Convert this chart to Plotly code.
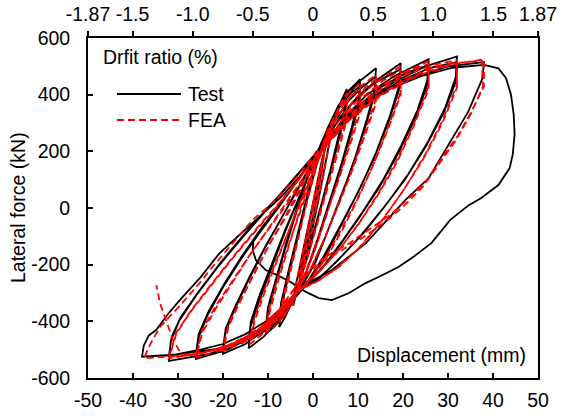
import plotly.graph_objects as go

# ---- Test: cyclic lateral load history, (displacement mm, lateral force kN) ----
test_initial = [(0, 0), (0.8, 60), (1.6, 130), (2.4, 190), (2.1, 150), (1.0, 50), (-0.4, -60), (-1.4, -140),
                (-2.4, -210), (-3.0, -250), (-2.6, -200), (-1.4, -100), (0.0, 20), (1.2, 110), (2.4, 190),
                (3.4, 255), (4.2, 300), (3.8, 245), (2.6, 140), (1.0, 10), (-0.8, -120), (-2.4, -220),
                (-3.6, -300), (-4.4, -345), (-3.9, -280), (-2.6, -180), (-1.0, -60), (0.6, 70), (2.0, 170),
                (3.5, 260), (5.5, 350), (7.5, 420)]
test_amp_7 = [(7.2, 360), (5.6, 250), (3.8, 130), (1.8, 10), (-0.4, -120), (-2.6, -240), (-4.6, -330),
              (-6.2, -385), (-7.5, -420),
              (-7.1, -355), (-5.6, -250), (-3.8, -130), (-1.8, 0), (0.4, 130), (2.4, 240), (4.4, 320),
              (6.2, 370), (7.5, 395),
              (7.1, 330), (5.4, 220), (3.4, 95), (1.2, -30), (-1.0, -160), (-3.2, -275), (-5.4, -350),
              (-7.5, -400),
              (-7.1, -335), (-5.4, -220), (-3.4, -90), (-1.2, 50), (1.0, 180), (3.2, 280), (5.6, 360),
              (8.0, 415), (10.5, 455)]
test_amp_10 = [(10.2, 385), (8.6, 285), (6.4, 160), (3.8, 30), (1.0, -110), (-1.6, -230), (-3.8, -310),
               (-6.2, -375), (-8.4, -415), (-10.5, -445),
               (-10.1, -375), (-8.5, -275), (-6.3, -150), (-3.8, -20), (-1.4, 100), (0.9, 195), (3.5, 290),
               (6.0, 360), (8.4, 405), (10.5, 430),
               (10.1, 360), (8.3, 255), (5.9, 125), (3.2, -10), (0.4, -145), (-2.2, -255), (-4.6, -330),
               (-7.2, -385), (-10.5, -425),
               (-10.0, -350), (-8.2, -245), (-5.8, -115), (-3.2, 20), (-0.8, 135), (1.4, 210), (4.0, 305),
               (7.0, 385), (10.2, 445), (14.0, 493)]
test_amp_14 = [(13.7, 415), (12.0, 315), (9.4, 180), (6.6, 55), (3.6, -70), (0.6, -190), (-2.4, -275),
               (-5.0, -345), (-8.0, -405), (-11.0, -455), (-14.3, -495),
               (-13.9, -420), (-12.0, -330), (-9.4, -220), (-6.6, -100), (-3.8, 10), (-1.0, 120), (1.6, 210),
               (4.6, 300), (8.0, 380), (11.2, 430), (14.0, 465),
               (13.6, 395), (11.6, 285), (8.8, 150), (5.8, 25), (2.8, -100), (-0.2, -210), (-3.0, -285),
               (-6.0, -360), (-9.4, -420), (-14.3, -470),
               (-13.8, -400), (-11.8, -305), (-9.0, -190), (-6.0, -70), (-3.0, 40), (0.0, 150), (2.4, 225),
               (6.0, 320), (10.0, 395), (14.5, 455), (19.5, 511)]
test_amp_20 = [(19.2, 435), (17.2, 330), (14.0, 195), (10.6, 75), (7.0, -40), (3.4, -150), (0.0, -240),
               (-3.0, -290), (-6.5, -365), (-10.5, -425), (-15.0, -480), (-20.0, -515),
               (-19.5, -440), (-17.5, -360), (-14.5, -260), (-11.0, -150), (-7.5, -50), (-4.0, 50),
               (-1.0, 140), (1.5, 210), (5.0, 295), (9.0, 375), (13.5, 440), (19.5, 490),
               (19.1, 415), (16.8, 305), (13.4, 170), (9.8, 50), (6.0, -65), (2.4, -170), (-1.0, -255),
               (-4.0, -305), (-8.0, -385), (-13.0, -450), (-20.0, -495),
               (-19.4, -425), (-17.2, -345), (-14.0, -240), (-10.4, -130), (-6.8, -30), (-3.2, 70),
               (0.0, 160), (2.4, 220), (7.0, 320), (12.0, 400), (18.0, 465), (25.7, 525)]
test_amp_26 = [(25.4, 450), (23.2, 345), (19.6, 220), (15.6, 100), (11.2, -10), (6.8, -110), (2.6, -200),
               (-1.0, -265), (-4.0, -305), (-8.0, -385), (-13.0, -450), (-19.0, -500), (-26.0, -533),
               (-25.5, -460), (-23.5, -380), (-20.0, -280), (-16.0, -180), (-12.0, -90), (-7.5, 5),
               (-3.5, 95), (0.5, 190), (4.0, 260), (9.0, 345), (15.0, 425), (20.5, 475), (25.7, 505),
               (25.3, 430), (22.8, 320), (19.0, 195), (14.8, 75), (10.2, -35), (5.8, -135), (1.6, -220),
               (-2.0, -275), (-5.0, -330), (-10.0, -415), (-17.0, -480), (-26.0, -515),
               (-25.4, -445), (-23.2, -365), (-19.6, -265), (-15.6, -165), (-11.4, -70), (-7.0, 20),
               (-3.0, 105), (0.6, 195), (5.0, 275), (11.0, 370), (18.0, 445), (25.0, 500), (32.0, 535)]
test_amp_32 = [(31.7, 460), (29.4, 355), (25.6, 235), (21.2, 120), (16.4, 15), (11.4, -85), (6.4, -170),
               (1.6, -245), (-2.0, -280), (-5.0, -335), (-10.0, -420), (-16.0, -475), (-23.0, -515),
               (-32.0, -540),
               (-31.6, -470), (-29.8, -400), (-26.0, -310), (-21.0, -205), (-16.0, -110), (-11.0, -20),
               (-6.0, 70), (-2.0, 145), (1.0, 200), (6.0, 290), (12.0, 375), (19.0, 445), (26.0, 495),
               (32.0, 515),
               (31.6, 440), (29.0, 335), (25.0, 215), (20.4, 100), (15.4, -5), (10.2, -105), (5.2, -190),
               (0.8, -255), (-3.0, -285), (-6.0, -345), (-12.0, -435), (-20.0, -495), (-32.0, -520),
               (-31.4, -455), (-29.4, -385), (-25.4, -295), (-20.4, -190), (-15.4, -95), (-10.4, -5),
               (-5.4, 80), (-1.4, 155), (1.5, 210), (7.0, 300), (14.0, 395), (22.0, 460), (30.0, 500),
               (38.0, 515)]
test_amp_38 = [(37.6, 455), (34.5, 340), (30.1, 222), (25.7, 105), (20.5, 28), (16.0, -50), (11.7, -125),
               (4.2, -219), (-3.1, -282), (-6.0, -340), (-10.0, -395), (-15.0, -445), (-20.0, -480),
               (-25.0, -500), (-31.0, -518), (-38.0, -525),
               (-37.6, -485), (-36.5, -450), (-34.8, -430), (-32.0, -370), (-29.6, -325), (-25.0, -245),
               (-20.8, -160), (-16.0, -90), (-11.9, -31), (-7.0, 40), (-3.0, 110), (0.0, 170), (2.0, 210),
               (6.0, 285), (11.0, 360), (17.0, 420), (24.0, 465), (31.0, 495), (38.0, 505)]
test_failure = [(41.2, 493), (42.9, 458), (44.0, 400), (44.6, 330), (44.8, 260), (44.4, 190), (43.7, 141),
                (41.2, 81), (37.4, 35), (34.7, 11), (30.5, -42), (26.3, -124), (22.5, -170), (19.0, -208),
                (15.0, -240), (11.7, -265), (8.0, -300), (4.2, -325), (1.3, -318), (-1.5, -297),
                (-3.1, -282), (-4.6, -265), (-7.5, -240), (-10.5, -219), (-12.7, -184), (-13.4, -148),
                (-13.2, -110)]

# ---- FEA: simulated response under the same loading protocol ----
fea_initial = [(0, 0), (1.0, 80), (2.0, 160), (2.6, 205), (2.2, 150), (0.8, 30), (-0.8, -90), (-2.0, -180),
               (-3.0, -255), (-2.5, -190), (-1.2, -80), (0.4, 50), (1.8, 150), (3.0, 235), (4.2, 305),
               (3.8, 240), (2.4, 120), (0.6, -20), (-1.2, -150), (-2.8, -250), (-4.0, -320), (-4.5, -345),
               (-3.8, -270), (-2.2, -150), (-0.4, -20), (1.2, 110), (2.8, 220), (4.6, 310), (6.0, 365),
               (7.5, 405)]
fea_amp_7 = [(7.5, 330), (5.6, 215), (3.6, 100), (1.6, -15), (-0.6, -140), (-2.8, -255), (-4.8, -335),
             (-6.4, -380), (-7.5, -405),
             (-6.6, -330), (-5.0, -220), (-3.2, -100), (-1.2, 30), (0.8, 150), (2.8, 250), (4.8, 325),
             (6.4, 365), (7.5, 385),
             (7.5, 310), (5.4, 190), (3.2, 70), (1.0, -50), (-1.2, -175), (-3.4, -280), (-5.6, -350),
             (-7.5, -390),
             (-6.6, -315), (-4.8, -195), (-2.8, -70), (-0.8, 60), (1.2, 180), (3.4, 280), (5.8, 355),
             (8.2, 410), (10.5, 440)]
fea_amp_10 = [(10.5, 355), (8.4, 245), (6.0, 120), (3.4, -5), (0.8, -130), (-1.8, -240), (-4.0, -315),
              (-6.4, -380), (-8.6, -420), (-10.5, -440),
              (-9.5, -360), (-7.6, -250), (-5.2, -125), (-2.8, 0), (-0.4, 110), (1.6, 200), (4.2, 295),
              (6.8, 365), (9.0, 405), (10.5, 420),
              (10.5, 335), (8.2, 220), (5.6, 95), (2.8, -30), (0.2, -150), (-2.4, -255), (-4.8, -330),
              (-7.6, -390), (-10.5, -425),
              (-9.6, -345), (-7.6, -235), (-5.0, -110), (-2.4, 10), (0.0, 120), (2.0, 205), (4.8, 305),
              (8.0, 385), (11.0, 435), (14.0, 470)]
fea_amp_14 = [(14.0, 385), (11.6, 270), (8.8, 140), (5.8, 20), (2.8, -100), (-0.4, -210), (-3.2, -280),
              (-6.0, -350), (-9.0, -410), (-11.6, -450), (-14.0, -480),
              (-13.0, -400), (-10.8, -300), (-8.0, -185), (-5.2, -70), (-2.4, 40), (0.4, 150), (2.6, 220),
              (5.6, 305), (8.8, 375), (11.6, 425), (14.0, 455),
              (14.0, 370), (11.4, 250), (8.4, 120), (5.4, 0), (2.2, -120), (-0.8, -225), (-3.6, -290),
              (-6.8, -365), (-10.0, -420), (-14.0, -465),
              (-13.0, -385), (-10.6, -280), (-7.6, -165), (-4.6, -50), (-1.6, 60), (1.0, 165), (3.8, 245),
              (7.4, 335), (11.4, 410), (15.4, 460), (19.5, 500)]
fea_amp_20 = [(19.5, 410), (16.8, 290), (13.6, 160), (10.2, 40), (6.6, -75), (3.0, -175), (-0.4, -250),
              (-3.6, -295), (-7.0, -370), (-11.0, -430), (-15.5, -475), (-20.0, -505),
              (-18.8, -420), (-16.2, -330), (-13.0, -230), (-9.6, -125), (-6.0, -25), (-2.6, 80), (0.4, 170),
              (2.4, 215), (6.4, 305), (11.0, 390), (15.6, 450), (19.5, 488),
              (19.5, 400), (16.6, 275), (13.2, 145), (9.6, 25), (5.8, -90), (2.2, -190), (-1.2, -260),
              (-4.4, -310), (-8.4, -390), (-13.4, -455), (-20.0, -495),
              (-18.8, -410), (-16.0, -320), (-12.6, -215), (-9.0, -110), (-5.2, -10), (-1.8, 95), (1.4, 185),
              (3.4, 230), (8.4, 330), (14.4, 425), (20.4, 480), (25.7, 518)]
fea_amp_26 = [(25.7, 430), (22.6, 305), (19.0, 180), (15.0, 65), (10.8, -40), (6.4, -135), (2.0, -215),
              (-1.6, -270), (-5.0, -320), (-9.6, -400), (-14.6, -460), (-20.0, -500), (-26.0, -528),
              (-24.6, -440), (-21.8, -360), (-18.2, -270), (-14.2, -170), (-10.0, -75), (-5.8, 20),
              (-2.0, 110), (1.4, 195), (5.6, 280), (11.4, 375), (17.0, 445), (21.6, 485), (25.7, 508),
              (25.7, 420), (22.4, 290), (18.6, 160), (14.4, 45), (10.0, -60), (5.4, -155), (1.0, -230),
              (-2.6, -280), (-6.0, -335), (-11.0, -415), (-18.0, -485), (-26.0, -518),
              (-24.6, -430), (-21.6, -345), (-17.8, -255), (-13.6, -155), (-9.2, -60), (-4.8, 35),
              (-1.0, 125), (2.0, 205), (7.4, 310), (14.0, 405), (20.6, 470), (26.6, 505), (32.0, 522)]
fea_amp_32 = [(32.0, 435), (28.8, 310), (24.8, 185), (20.4, 70), (15.8, -35), (11.0, -130), (6.0, -205),
              (1.4, -255), (-2.6, -285), (-6.0, -345), (-11.0, -420), (-17.0, -475), (-24.0, -510),
              (-32.0, -530),
              (-30.4, -445), (-27.4, -370), (-23.0, -280), (-18.0, -180), (-13.0, -85), (-8.0, 5),
              (-3.5, 95), (1.0, 190), (7.0, 295), (13.4, 385), (20.0, 450), (26.4, 495), (32.0, 515),
              (32.0, 425), (28.6, 295), (24.4, 170), (19.8, 55), (15.0, -50), (10.0, -145), (5.0, -215),
              (0.6, -262), (-3.4, -292), (-7.0, -360), (-13.0, -440), (-21.0, -500), (-32.0, -525),
              (-30.4, -440), (-27.0, -360), (-22.4, -265), (-17.4, -165), (-12.4, -70), (-7.4, 20),
              (-3.0, 105), (1.4, 195), (8.4, 315), (15.4, 400), (23.0, 465), (30.6, 505), (38.0, 525)]
fea_amp_38 = [(38.0, 430), (35.2, 340), (32.3, 258), (28.6, 176), (25.0, 92), (21.0, 30), (17.5, -20),
              (13.0, -70), (8.0, -125), (2.8, -172), (-0.9, -219), (-3.8, -280), (-7.5, -360),
              (-12.5, -435), (-19.0, -490), (-27.0, -520), (-37.5, -530),
              (-36.5, -490), (-34.0, -420), (-29.6, -345), (-25.2, -265), (-22.3, -207), (-17.8, -125),
              (-13.4, -42), (-8.3, 28), (-3.6, 110), (0.8, 195), (4.0, 255), (10.0, 345), (17.0, 420),
              (24.0, 475), (31.0, 510), (37.5, 520),
              (37.8, 430), (35.0, 330), (31.8, 240), (28.0, 155), (24.4, 75), (20.4, 10), (16.4, -45),
              (12.0, -95), (7.2, -140), (2.6, -185), (-1.4, -235), (-4.2, -285), (-8.0, -370),
              (-13.0, -440), (-19.0, -490), (-25.0, -512), (-29.0, -522), (-31.1, -466), (-32.7, -395),
              (-34.0, -336), (-34.8, -272)]

# Axis ticks
disp_ticks = [-50, -40, -30, -20, -10, 0, 10, 20, 30, 40, 50]
force_ticks = [-600, -400, -200, 0, 200, 400, 600]
drift_ticks = [-1.87, -1.5, -1.0, -0.5, 0, 0.5, 1.0, 1.5, 1.87]
drift_labels = ["-1.87", "-1.5", "-1.0", "-0.5", "0", "0.5", "1.0", "1.5", "1.87"]


def unzip(*stages):
    xs, ys = [], []
    for stage in stages:
        for x, y in stage:
            xs.append(x)
            ys.append(y)
    return xs, ys


test_d, test_f = unzip(test_initial, test_amp_7, test_amp_10, test_amp_14, test_amp_20,
                       test_amp_26, test_amp_32, test_amp_38, test_failure)
fea_d, fea_f = unzip(fea_initial, fea_amp_7, fea_amp_10, fea_amp_14, fea_amp_20,
                     fea_amp_26, fea_amp_32, fea_amp_38)

FONT = "Liberation Sans, Arial, sans-serif"
FS = 19.5
L, R, T, B = 88, 24, 38, 38
W, H = 562, 416
PW, PH = W - L - R, H - T - B


def px(x):
    return (x - L) / PW


def py(y):
    return (H - B - y) / PH


TEST_LINE = dict(color="black", width=1.8)
FEA_LINE = dict(color="#ff0000", width=1.8, dash="7px,4px")

fig = go.Figure()
fig.add_trace(go.Scatter(x=test_d, y=test_f, mode="lines", name="Test", line=TEST_LINE))
fig.add_trace(go.Scatter(x=fea_d, y=fea_f, mode="lines", name="FEA", line=FEA_LINE))
# empty carrier so the drift-ratio axis on top is drawn
fig.add_trace(go.Scatter(x=[drift_ticks[0], drift_ticks[-1]], y=[0, 0], xaxis="x2", mode="none",
                         hoverinfo="skip"))

axis_common = dict(showgrid=False, zeroline=False, showline=True, linecolor="black", linewidth=1.8,
                   tickcolor="black", ticklen=5, tickwidth=1.5, automargin=False,
                   tickfont=dict(family=FONT, size=FS, color="black"))

fig.update_layout(
    width=W, height=H, margin=dict(l=L, r=R, t=T, b=B, autoexpand=False),
    paper_bgcolor="white", plot_bgcolor="white",
    xaxis=dict(range=[-50, 50], tickvals=disp_ticks, ticktext=[str(v) for v in disp_ticks],
               ticks="inside", mirror=True, ticklabelstandoff=4, **axis_common),
    xaxis2=dict(range=[drift_ticks[0], drift_ticks[-1]], overlaying="x", side="top", anchor="y",
                tickvals=drift_ticks, ticktext=drift_labels, ticks="outside", ticklabelstandoff=2,
                **axis_common),
    yaxis=dict(range=[-600, 600], tickvals=force_ticks, ticktext=[str(v) for v in force_ticks],
               ticks="inside", mirror=True, ticklabelstandoff=12, **axis_common),
    showlegend=False,
)

ann_font = dict(family=FONT, size=FS, color="black")
fig.add_annotation(text="Lateral force (kN)", xref="paper", yref="paper", x=px(18), y=0.5,
                   textangle=-90, showarrow=False, font=ann_font, xanchor="center", yanchor="middle")
fig.add_annotation(text="Drfit ratio (%)", xref="paper", yref="paper", x=px(101), y=py(57),
                   showarrow=False, font=ann_font, xanchor="left", yanchor="middle")
fig.add_annotation(text="Displacement (mm)", xref="paper", yref="paper", x=px(528), y=py(355),
                   showarrow=False, font=ann_font, xanchor="right", yanchor="middle")

# legend drawn inside the plot area
for label, yy, style in [("Test", 94, TEST_LINE), ("FEA", 120, FEA_LINE)]:
    fig.add_shape(type="line", xref="paper", yref="paper", x0=px(117), x1=px(181), y0=py(yy), y1=py(yy),
                  line=style)
    fig.add_annotation(text=label, xref="paper", yref="paper", x=px(186), y=py(yy), showarrow=False,
                       font=ann_font, xanchor="left", yanchor="middle")

fig.write_html("out.html")
